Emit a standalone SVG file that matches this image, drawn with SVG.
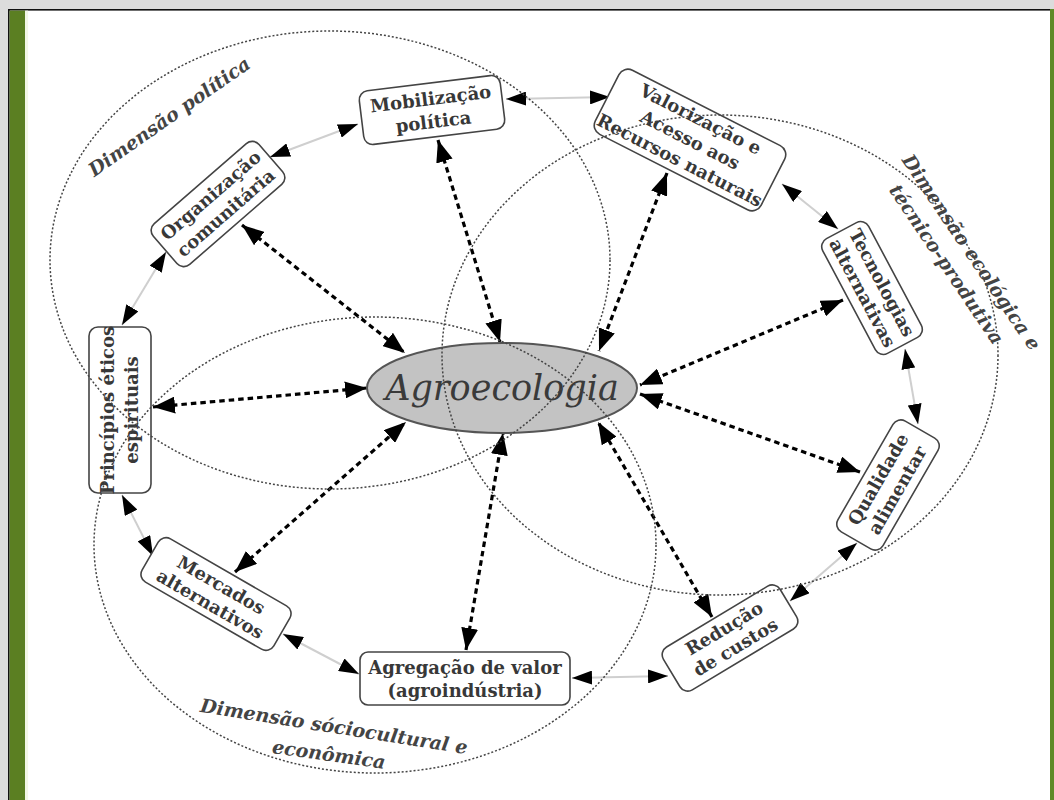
<svg xmlns="http://www.w3.org/2000/svg" width="1054" height="800" viewBox="0 0 1054 800">
<style>
.box{fill:#fff;stroke:#444;stroke-width:1.6}
.nt{font-family:"DejaVu Serif",serif;font-weight:bold;font-size:18px;fill:#383838;text-anchor:middle}
.lbl{font-family:"DejaVu Serif",serif;font-weight:bold;font-style:italic;font-size:19px;fill:#444;text-anchor:middle}
.ring{fill:none;stroke:#cfcfcf;stroke-width:2;marker-start:url(#ra);marker-end:url(#ra)}
.spoke{fill:none;stroke:#000;stroke-width:3.2;stroke-dasharray:5.5 4;marker-start:url(#sa);marker-end:url(#sa)}
.dim{fill:none;stroke:#444;stroke-width:1.5;stroke-dasharray:2 2}
</style>
<defs>
<marker id="sa" viewBox="0 0 22 17" refX="22" refY="8.5" markerWidth="22" markerHeight="17" markerUnits="userSpaceOnUse" orient="auto-start-reverse"><path d="M0,0 L22,8.5 L0,17 z" fill="#000"/></marker>
<marker id="ra" viewBox="0 0 20 14" refX="20" refY="7" markerWidth="20" markerHeight="14" markerUnits="userSpaceOnUse" orient="auto-start-reverse"><path d="M0,0 L20,7 L0,14 z" fill="#000"/></marker>
</defs>
<rect x="0" y="0" width="1054" height="800" fill="#fff"/>
<g id="frame">
<rect x="0" y="0" width="1054" height="9" fill="#dcdcdc"/>
<rect x="0" y="0" width="8" height="800" fill="#dcdcdc"/>
<rect x="8" y="9" width="1042" height="1.6" fill="#111"/>
<rect x="8" y="9" width="1.6" height="791" fill="#111"/>
<rect x="9.6" y="10.6" width="15.5" height="789.4" fill="#5b7f22"/>
<rect x="25.1" y="10.6" width="3" height="789.4" fill="#f2f7e6"/>
<rect x="1050" y="9" width="4" height="791" fill="#5f8a27"/>
</g>
<g id="connectors">
<path class="ring" d="M506,99 L610,97"/>
<path class="ring" d="M358,124 L270,157"/>
<path class="ring" d="M166,252 L122,325"/>
<path class="ring" d="M122,495 L153,556"/>
<path class="ring" d="M283,634 L359,674"/>
<path class="ring" d="M572,678 L668,676"/>
<path class="ring" d="M790,601 L857,543"/>
<path class="ring" d="M918,424 L905,349"/>
<path class="ring" d="M838,229 L782,184"/>
<path class="spoke" d="M438,140 L500,342"/>
<path class="spoke" d="M667,173 L599,351"/>
<path class="spoke" d="M843,300 L640,385"/>
<path class="spoke" d="M860,472 L640,394"/>
<path class="spoke" d="M712,617 L598,422"/>
<path class="spoke" d="M466,650 L503,433"/>
<path class="spoke" d="M235,572 L406,422"/>
<path class="spoke" d="M153,407 L367,388"/>
<path class="spoke" d="M242,225 L405,353"/>
</g>
<g id="agroecologia">
<ellipse cx="502" cy="388" rx="135" ry="45" fill="#c3c3c3" stroke="#555" stroke-width="2"/>
<text x="502" y="400" font-family="DejaVu Serif,serif" font-style="italic" font-size="35" fill="#3a3a3a" text-anchor="middle">Agroecologia</text>
</g>
<g id="mobilizacao" transform="translate(432,110) rotate(-7)">
<rect class="box" x="-71" y="-27" width="142" height="54" rx="9"/>
<text class="nt" y="-5">Mobilização</text>
<text class="nt" y="18">política</text>
</g>
<g id="valorizacao" transform="translate(690,140) rotate(27)">
<rect class="box" x="-93" y="-36" width="186" height="72" rx="10"/>
<text class="nt" y="-17" font-size="17">Valorização e</text>
<text class="nt" y="6" font-size="17">Acesso aos</text>
<text class="nt" y="29" font-size="17">Recursos naturais</text>
</g>
<g id="tecnologias" transform="translate(872,288) rotate(62)">
<rect class="box" x="-65" y="-26" width="130" height="52" rx="9"/>
<text class="nt" y="-5" font-size="17">Tecnologias</text>
<text class="nt" y="17" font-size="17">alternativas</text>
</g>
<g id="qualidade" transform="translate(888,485) rotate(-60)">
<rect class="box" x="-64" y="-26" width="128" height="52" rx="9"/>
<text class="nt" y="-5">Qualidade</text>
<text class="nt" y="17">alimentar</text>
</g>
<g id="reducao" transform="translate(730,638) rotate(-31)">
<rect class="box" x="-68" y="-25" width="136" height="50" rx="9"/>
<text class="nt" y="-5">Redução</text>
<text class="nt" y="17">de custos</text>
</g>
<g id="agregacao">
<rect class="box" x="360" y="652" width="210" height="53" rx="8"/>
<text class="nt" x="465" y="674">Agregação de valor</text>
<text class="nt" x="465" y="697">(agroindústria)</text>
</g>
<g id="mercados" transform="translate(216,594) rotate(30)">
<rect class="box" x="-76" y="-25" width="152" height="50" rx="9"/>
<text class="nt" y="-4">Mercados</text>
<text class="nt" y="18">alternativos</text>
</g>
<g id="principios" transform="translate(120,410) rotate(-90)">
<rect class="box" x="-83" y="-31" width="166" height="62" rx="9"/>
<text class="nt" y="-6" font-size="16">Princípios éticos</text>
<text class="nt" y="18" font-size="16">espirituais</text>
</g>
<g id="organizacao" transform="translate(218,204) rotate(-41)">
<rect class="box" x="-70" y="-27" width="140" height="54" rx="9"/>
<text class="nt" y="-5">Organização</text>
<text class="nt" y="18">comunitária</text>
</g>
<g id="dimensions">
<ellipse class="dim" cx="330" cy="260" rx="280" ry="229"/>
<ellipse class="dim" cx="720" cy="355" rx="278" ry="240"/>
<ellipse class="dim" cx="375" cy="545" rx="281" ry="228"/>
<text class="lbl" transform="translate(173,122) rotate(-35)">Dimensão política</text>
<text class="lbl" font-size="18" transform="translate(966,256) rotate(56)">Dimensão ecológica e</text>
<text class="lbl" font-size="18" transform="translate(941,268) rotate(56)">técnico-produtiva</text>
<text class="lbl" transform="translate(333,733) rotate(9)">Dimensão sóciocultural e</text>
<text class="lbl" transform="translate(328,761) rotate(8)">econômica</text>
</g>
</svg>
